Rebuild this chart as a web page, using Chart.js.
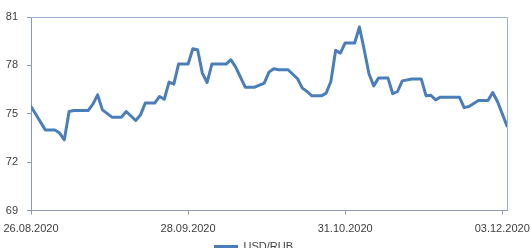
<!DOCTYPE html>
<html><head><meta charset="utf-8">
<script src="https://cdn.jsdelivr.net/npm/chart.js@4/dist/chart.umd.min.js"></script>
<style>html,body{margin:0;padding:0;overflow:hidden;background:#fff}#wrap{width:531px;height:262px;position:relative}</style>
</head><body><div id="wrap"><canvas id="c"></canvas></div>
<script>
const seriesName = 'USD/RUB';
const tickLabels = ['26.08.2020', '28.09.2020', '31.10.2020', '03.12.2020'];
const dates = [
  '26.08.2020','29.08.2020','31.08.2020','01.09.2020','02.09.2020','03.09.2020','04.09.2020','07.09.2020',
  '08.09.2020','09.09.2020','10.09.2020','12.09.2020','14.09.2020','15.09.2020','17.09.2020','18.09.2020',
  '19.09.2020','21.09.2020','22.09.2020','23.09.2020','24.09.2020','25.09.2020','26.09.2020','28.09.2020',
  '29.09.2020','30.09.2020','01.10.2020','02.10.2020','03.10.2020','06.10.2020','07.10.2020','08.10.2020',
  '10.10.2020','12.10.2020','14.10.2020','15.10.2020','16.10.2020','17.10.2020','19.10.2020','21.10.2020',
  '22.10.2020','23.10.2020','24.10.2020','26.10.2020','27.10.2020','28.10.2020','29.10.2020','30.10.2020',
  '31.10.2020','02.11.2020','03.11.2020','04.11.2020','05.11.2020','06.11.2020','07.11.2020','09.11.2020',
  '10.11.2020','11.11.2020','12.11.2020','14.11.2020','16.11.2020','17.11.2020','18.11.2020','19.11.2020',
  '20.11.2020','24.11.2020','25.11.2020','26.11.2020','28.11.2020','30.11.2020','01.12.2020','02.12.2020',
  '04.12.2020'
];
const usdRub = [
  75.45, 74.00, 74.00, 73.80, 73.38, 75.14, 75.20, 75.20,
  75.60, 76.17, 75.24, 74.79, 74.79, 75.14, 74.58, 74.93,
  75.66, 75.66, 76.07, 75.90, 76.96, 76.84, 78.08, 78.08,
  79.03, 78.97, 77.52, 76.94, 78.08, 78.08, 78.35, 77.89,
  76.65, 76.65, 76.90, 77.58, 77.79, 77.73, 77.73, 77.17,
  76.59, 76.38, 76.11, 76.11, 76.28, 77.00, 78.93, 78.76,
  79.39, 79.39, 80.38, 78.97, 77.48, 76.73, 77.21, 77.21,
  76.24, 76.38, 77.04, 77.15, 77.15, 76.11, 76.15, 75.86,
  76.03, 76.03, 75.38, 75.45, 75.82, 75.82, 76.32, 75.76,
  74.25
];
const yTicks = [69, 72, 75, 78, 81];

function toDay(s){const p=s.split('.').map(Number);return Date.UTC(p[2],p[1]-1,p[0])/86400000;}
const start = toDay(tickLabels[0]);
const points = dates.map((s,i)=>({x:toDay(s)-start, y:usdRub[i]}));
const tickDays = tickLabels.map(s=>toDay(s)-start);
const lastDay = toDay(dates[dates.length-1]) - start;

const frame = {
  id:'frame',
  afterDraw(chart){
    const a = chart.chartArea, ctx = chart.ctx;
    ctx.save();
    ctx.strokeStyle = '#9BB5D9';
    ctx.lineWidth = 1;
    ctx.beginPath();
    ctx.moveTo(a.left, Math.round(a.top)+0.5);
    ctx.lineTo(Math.round(a.right)+0.5, Math.round(a.top)+0.5);
    ctx.lineTo(Math.round(a.right)+0.5, a.bottom);
    ctx.stroke();
    ctx.restore();
  }
};

const font = {family:'"Liberation Sans", Arial, sans-serif', size:11};
new Chart(document.getElementById('c'), {
  type:'line',
  data:{datasets:[{
    label: seriesName,
    data: points,
    borderColor:'#4A7EBB',
    backgroundColor:'#4A7EBB',
    borderWidth:3,
    pointRadius:0,
    tension:0,
    borderJoinStyle:'round',
    borderCapStyle:'round'
  }]},
  options:{
    responsive:true,
    maintainAspectRatio:false,
    animation:false,
    layout:{padding:{left:0,top:17,right:24,bottom:0}, autoPadding:false},
    plugins:{
      legend:{position:'bottom', labels:{usePointStyle:true, pointStyle:'line', pointStyleWidth:24, font:font, color:'#404040', padding:2, boxHeight:11}},
      tooltip:{enabled:false}
    },
    scales:{
      x:{
        type:'linear', min:0, max:lastDay,
        afterBuildTicks(s){ s.ticks = tickDays.map(v=>({value:v})); },
        afterFit(s){ s.height = 28.5; s.paddingLeft = 0; s.paddingRight = 0; },
        ticks:{autoSkip:false, maxRotation:0, font:font, color:'#404040', padding:8,
          callback(v){ const i = tickDays.indexOf(v); return i>=0 ? tickLabels[i] : ''; }},
        grid:{drawOnChartArea:false, drawTicks:true, tickLength:4, color:'#8E9AAE'},
        border:{display:true, color:'#8E9AAE', width:1}
      },
      y:{
        min:69, max:81,
        afterBuildTicks(s){ s.ticks = yTicks.map(v=>({value:v})); },
        afterFit(s){ s.width = 31; s.paddingTop = 0; s.paddingBottom = 0; },
        ticks:{font:font, color:'#404040', padding:9},
        grid:{drawOnChartArea:false, drawTicks:true, tickLength:4, color:'#8E9AAE'},
        border:{display:true, color:'#8E9AAE', width:1}
      }
    }
  },
  plugins:[frame]
});
</script>
</body></html>
